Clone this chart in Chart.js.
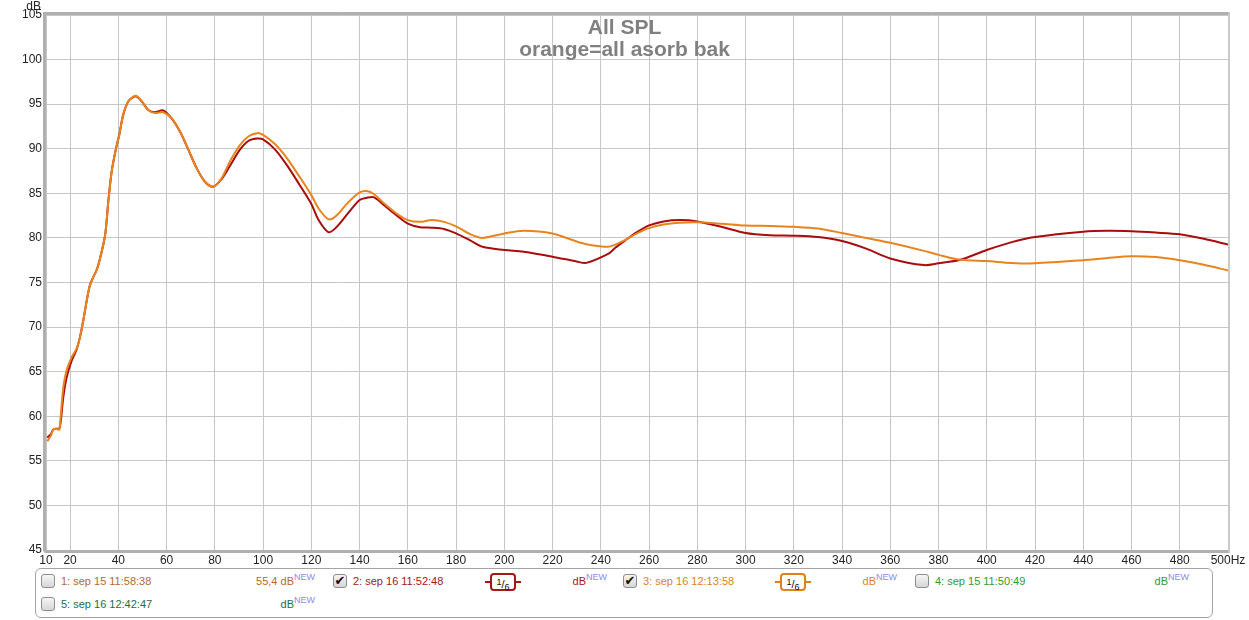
<!DOCTYPE html>
<html>
<head>
<meta charset="utf-8">
<title>All SPL</title>
<script src="https://cdn.jsdelivr.net/npm/chart.js@4.4.1/dist/chart.umd.min.js"></script>
<style>
    html, body { margin: 0; padding: 0; background: #fff; }
    body { width: 1249px; height: 620px; position: relative; overflow: hidden; font-family: "Liberation Sans", Arial, sans-serif; }
    #wrap { position: absolute; left: 0; top: 0; width: 1249px; height: 566px; }
    #legend {
        position: absolute; left: 35px; top: 568px; width: 1176px; height: 48px;
        border: 1px solid #a4a4a4; border-radius: 6px; font-size: 11px;
    }
    .item { position: absolute; width: 292px; height: 16px; }
    .cb {
        position: absolute; left: 0; top: 0; width: 12px; height: 12px;
        border: 1px solid #8c8c8c; border-radius: 3px;
        background: linear-gradient(#f6f6f6, #d6d6d6);
        font-size: 13px; line-height: 12px; text-align: center; color: #111;
        font-family: "DejaVu Sans", sans-serif;
    }
    .nm { position: absolute; left: 20px; top: 1px; white-space: nowrap; }
    .db { position: absolute; right: 39px; top: 1px; white-space: nowrap; }
    .db sup { position: absolute; left: 100%; top: -3px; font-size: 9px; color: #8a8aee; }
    .sm { position: absolute; left: 152px; top: -1px; width: 36px; height: 18px; }
    .sm::before, .sm::after {
        content: ''; position: absolute; top: 8px; width: 6px; height: 2px; background: var(--c);
    }
    .sm::before { left: 0; }
    .sm::after { right: 0; }
    .sm b {
        position: absolute; left: 5px; top: 0; width: 22px; height: 14px;
        border: 2px solid var(--c); border-radius: 4px; background: #fff;
        font-weight: normal; font-size: 11px; line-height: 14px; text-align: center; color: #111;
    }
    .sm sup { font-size: 9px; vertical-align: 3px; }
    .sm sub { font-size: 9px; vertical-align: -2px; }
</style>
</head>
<body>
<div id="wrap"><canvas id="splChart"></canvas></div>

<div id="legend">
    <div class="item" style="left:5px;top:5px;color:#b8672c">
        <span class="cb"></span><span class="nm">1: sep 15 11:58:38</span>
        <span class="db">55,4 dB<sup>NEW</sup></span>
    </div>
    <div class="item" style="left:297px;top:5px;color:#a01818">
        <span class="cb">✔</span><span class="nm">2: sep 16 11:52:48</span>
        <span class="sm" style="--c:#a01818"><b><sup>1</sup>/<sub>6</sub></b></span>
        <span class="db">dB<sup>NEW</sup></span>
    </div>
    <div class="item" style="left:587px;top:5px;color:#e0801c">
        <span class="cb">✔</span><span class="nm">3: sep 16 12:13:58</span>
        <span class="sm" style="--c:#e0801c"><b><sup>1</sup>/<sub>6</sub></b></span>
        <span class="db">dB<sup>NEW</sup></span>
    </div>
    <div class="item" style="left:879px;top:5px;color:#2e9a2e">
        <span class="cb"></span><span class="nm">4: sep 15 11:50:49</span>
        <span class="db">dB<sup>NEW</sup></span>
    </div>
    <div class="item" style="left:5px;top:28px;color:#1e6e46">
        <span class="cb"></span><span class="nm">5: sep 16 12:42:47</span>
        <span class="db">dB<sup>NEW</sup></span>
    </div>
</div>

<script>
// ============================================
// DATA
// ============================================
const FREQS = [10.5, 12, 13, 14.4, 15.5, 16.1, 17.2, 18.6, 20.6, 22.7,
    24.1, 25.5, 26.9, 28.2, 29.6, 31, 32.4, 34.5, 35.8, 37.2,
    39, 40.4, 42, 44.1, 47.2, 49.7, 52.4, 55.2, 58.6, 62.1,
    65.6, 69, 72.5, 75.9, 79.4, 82.8, 86.3, 90.4, 94, 97.5,
    100, 105, 110, 115, 120, 123, 127, 130, 135, 140,
    143, 146, 150, 155, 160, 165, 170, 175, 180, 186,
    191, 200, 208, 220, 230, 234, 243, 246, 250, 255,
    260, 266, 273, 280, 290, 300, 310, 320, 330, 340,
    350, 360, 374, 380, 389, 400, 410, 420, 440, 450,
    460, 470, 480, 490, 500];

// 3: sep 16 12:13:58 (orange)
const SPL_ORANGE = [57.2, 57.8, 58.5, 58.6, 58.5, 60.0, 63.3, 65.2, 66.6, 67.6,
    68.9, 70.8, 73.0, 74.7, 75.6, 76.4, 77.7, 80.3, 84.0, 87.4,
    90.0, 91.6, 93.8, 95.3, 95.95, 95.3, 94.35, 94.0, 94.1, 93.4,
    91.9, 89.9, 87.8, 86.3, 85.75, 86.7, 88.6, 90.4, 91.4, 91.75,
    91.55, 90.5, 88.9, 86.9, 84.8, 83.3, 82.1, 82.4, 83.9, 85.1,
    85.25, 84.9, 83.9, 82.8, 82.0, 81.8, 82.0, 81.8, 81.3, 80.4,
    80.0, 80.5, 80.8, 80.5, 79.6, 79.3, 79.0, 79.25, 79.75, 80.5,
    81.1, 81.5, 81.7, 81.75, 81.6, 81.4, 81.35, 81.25, 81.05, 80.55,
    80.0, 79.45, 78.55, 78.1, 77.55, 77.4, 77.2, 77.15, 77.5, 77.75,
    77.95, 77.85, 77.5, 77.0, 76.35];

// 2: sep 16 11:52:48 (dark red)
const SPL_DARK = [57.6, 58.0, 58.5, 58.6, 58.6, 59.4, 62.2, 64.4, 66.2, 67.5,
    68.9, 70.8, 73.0, 74.7, 75.6, 76.4, 77.7, 80.3, 84.0, 87.4,
    90.0, 91.6, 93.8, 95.3, 95.9, 95.3, 94.35, 94.1, 94.3, 93.4,
    91.9, 89.9, 87.8, 86.3, 85.75, 86.6, 88.1, 89.9, 90.9, 91.15,
    91.05, 89.9, 88.1, 86.0, 83.8, 82.0, 80.65, 81.1, 82.7, 84.25,
    84.5, 84.55, 83.7, 82.6, 81.6, 81.2, 81.15, 81.0, 80.5, 79.7,
    79.0, 78.65, 78.45, 77.9, 77.35, 77.2, 78.2, 78.9, 79.7, 80.65,
    81.4, 81.85, 82.0, 81.85, 81.25, 80.55, 80.3, 80.25, 80.1, 79.65,
    78.8, 77.7, 76.95, 77.15, 77.55, 78.65, 79.5, 80.1, 80.7, 80.8,
    80.75, 80.6, 80.4, 79.9, 79.25];

const X_TICKS = [10, 20, 40, 60, 80, 100, 120, 140, 160, 180, 200, 220, 240,
    260, 280, 300, 320, 340, 360, 380, 400, 420, 440, 460, 480, 500];

const TITLE_LINES = ['All SPL', 'orange=all asorb bak'];

// ============================================
// HELPERS
// ============================================
function toPoints(values) {
    return FREQS.map((f, i) => ({ x: f, y: values[i] }));
}

// frame, title and unit label drawn on the canvas
const overlayPlugin = {
    id: 'overlay',
    afterDraw(chart) {
        const { ctx, chartArea: a } = chart;
        ctx.save();

        // plot frame
        ctx.lineWidth = 3;
        ctx.strokeStyle = '#b0b0b0';
        ctx.beginPath();
        ctx.moveTo(a.left - 1.5, a.bottom + 1.5);
        ctx.lineTo(a.left - 1.5, a.top - 1.5);
        ctx.lineTo(a.right + 1.5, a.top - 1.5);
        ctx.moveTo(a.left - 1.5, a.bottom + 1.5);
        ctx.lineTo(a.right + 1.5, a.bottom + 1.5);
        ctx.stroke();
        ctx.lineWidth = 2;
        ctx.strokeStyle = '#cacaca';
        ctx.beginPath();
        ctx.moveTo(a.right + 1, a.top - 1.5);
        ctx.lineTo(a.right + 1, a.bottom + 1.5);
        ctx.stroke();

        // title
        ctx.fillStyle = '#808080';
        ctx.font = 'bold 21px "Liberation Sans", Arial, sans-serif';
        ctx.textAlign = 'center';
        ctx.textBaseline = 'alphabetic';
        ctx.fillText(TITLE_LINES[0], chart.width / 2, 34);
        ctx.fillText(TITLE_LINES[1], chart.width / 2, 56);

        // unit label
        ctx.fillStyle = '#222';
        ctx.font = '12px "Liberation Sans", Arial, sans-serif';
        ctx.textAlign = 'right';
        ctx.fillText('dB', 41, 10);

        ctx.restore();
    }
};

// ============================================
// CHART
// ============================================
Chart.defaults.font.family = '"Liberation Sans", Arial, sans-serif';
Chart.defaults.font.size = 12;
Chart.defaults.color = '#222';

new Chart(document.getElementById('splChart'), {
    type: 'line',
    data: {
        datasets: [
            {
                label: '3: sep 16 12:13:58',
                data: toPoints(SPL_ORANGE),
                borderColor: '#e8841e',
                borderWidth: 2,
                pointRadius: 0,
                tension: 0.3
            },
            {
                label: '2: sep 16 11:52:48',
                data: toPoints(SPL_DARK),
                borderColor: '#a80c0c',
                borderWidth: 2,
                pointRadius: 0,
                tension: 0.3
            }
        ]
    },
    options: {
        responsive: true,
        maintainAspectRatio: false,
        animation: false,
        layout: { padding: { top: 15, right: 21, left: 0, bottom: 0 } },
        plugins: {
            legend: { display: false },
            tooltip: { enabled: false }
        },
        scales: {
            x: {
                type: 'linear',
                min: 10,
                max: 500,
                afterBuildTicks: (scale) => {
                    scale.ticks = X_TICKS.map(v => ({ value: v }));
                },
                afterFit: (scale) => { scale.height = 16; },
                ticks: {
                    padding: 3,
                    maxRotation: 0,
                    autoSkip: false,
                    color: '#222',
                    callback: (v) => v === 500 ? '500Hz' : String(v)
                },
                grid: { color: '#c6c6c6', drawTicks: false },
                border: { display: false }
            },
            y: {
                min: 45,
                max: 105,
                afterFit: (scale) => { scale.width = 46; },
                ticks: { stepSize: 5, padding: 4, color: '#222' },
                grid: { color: '#c6c6c6', drawTicks: false },
                border: { display: false }
            }
        }
    },
    plugins: [overlayPlugin]
});
</script>
</body>
</html>
